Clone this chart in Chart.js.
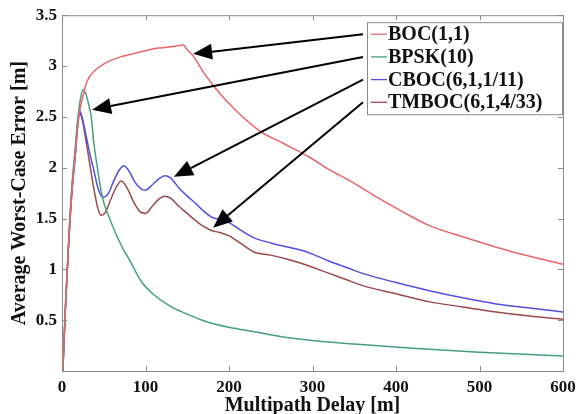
<!DOCTYPE html>
<html>
<head>
<meta charset="utf-8">
<script src="https://cdn.jsdelivr.net/npm/chart.js@4"></script>
<style>
  html, body { margin: 0; padding: 0; background: #fff; }
  #wrap { width: 583px; height: 414px; }
</style>
</head>
<body>
<div id="wrap"><canvas id="mpChart" width="583" height="414"></canvas></div>
<script>
// series names
const seriesNames = ['BOC(1,1)', 'BPSK(10)', 'CBOC(6,1,1/11)', 'TMBOC(6,1,4/33)'];

// BOC(1,1)
const bocDelay = [1, 4, 7.5, 11.6, 15.6, 18.5, 21, 25, 30, 40, 50, 60, 70, 80, 90, 100, 110, 120, 130, 140, 145, 150, 157, 164, 171, 185, 205, 237, 265, 297, 320, 345, 375, 405, 440, 480, 540, 600];
const bocError = [0, 0.6, 1.18, 1.74, 2.1, 2.38, 2.55, 2.7, 2.85, 2.96, 3.02, 3.06, 3.09, 3.11, 3.13, 3.15, 3.17, 3.18, 3.19, 3.2, 3.21, 3.16, 3.1, 3.01, 2.92, 2.77, 2.59, 2.36, 2.24, 2.1, 1.98, 1.87, 1.72, 1.58, 1.43, 1.32, 1.17, 1.05];

// BPSK(10)
const bpskDelay = [1, 4, 7.5, 11.6, 15.6, 18.5, 21, 25, 28, 32, 35, 38, 42, 48, 57, 64, 72, 81, 95, 110, 131, 150, 171, 200, 231, 261, 300, 350, 420, 500, 600];
const bpskError = [0, 0.62, 1.22, 1.8, 2.17, 2.45, 2.62, 2.77, 2.74, 2.62, 2.5, 2.25, 2.02, 1.72, 1.5, 1.36, 1.22, 1.09, 0.88, 0.75, 0.63, 0.56, 0.49, 0.43, 0.385, 0.34, 0.3, 0.265, 0.225, 0.185, 0.148];

// CBOC(6,1,1/11)
const cbocDelay = [1, 4, 7.5, 11.6, 15.6, 18.5, 21, 24, 28, 33, 38, 43, 49, 55, 62, 68, 74, 80, 88, 95, 100, 108, 116, 123, 130, 140, 150, 160, 170, 180, 190, 200, 215, 230, 250, 270, 290, 300, 320, 340, 360, 400, 440, 480, 520, 560, 600];
const cbocError = [0, 0.6, 1.18, 1.74, 2.1, 2.4, 2.56, 2.5, 2.35, 2.15, 1.98, 1.8, 1.71, 1.74, 1.87, 1.97, 2.02, 1.97, 1.85, 1.79, 1.78, 1.83, 1.89, 1.92, 1.9, 1.8, 1.72, 1.65, 1.57, 1.51, 1.49, 1.46, 1.38, 1.31, 1.26, 1.22, 1.18, 1.15, 1.08, 1.02, 0.96, 0.87, 0.79, 0.72, 0.66, 0.62, 0.58];

// TMBOC(6,1,4/33)
const tmbocDelay = [1, 4, 7.5, 11.6, 15.6, 18.5, 21, 24, 28, 33, 38, 43, 47, 52, 58, 65, 71, 78, 86, 93, 100, 108, 116, 123, 130, 140, 150, 160, 170, 180, 190, 200, 215, 230, 250, 270, 290, 300, 320, 340, 360, 400, 440, 480, 520, 560, 600];
const tmbocError = [0, 0.6, 1.18, 1.74, 2.1, 2.4, 2.54, 2.48, 2.3, 2.05, 1.8, 1.6, 1.53, 1.56, 1.68, 1.81, 1.87, 1.8, 1.66, 1.57, 1.55, 1.62, 1.69, 1.72, 1.7, 1.62, 1.55, 1.48, 1.42, 1.38, 1.36, 1.33, 1.25, 1.17, 1.14, 1.1, 1.05, 1.02, 0.96, 0.9, 0.84, 0.76, 0.68, 0.63, 0.58, 0.54, 0.51];

// where each legend arrow points (delay, error)
const arrowDelay = [157, 36, 134, 181];
const arrowError = [3.12, 2.57, 1.91, 1.41];

const lineColors = ['#e8656b', '#45a07c', '#5050e0', '#9a4a4a'];
const serif = '"Liberation Serif", "Times New Roman", serif';

function toPoints(xs, ys) {
  return xs.map((x, i) => ({ x: x, y: ys[i] }));
}

// frame and inward MATLAB-style tick marks
const framePlugin = {
  id: 'frame',
  afterDraw(chart) {
    const ctx = chart.ctx;
    const a = chart.chartArea;
    const sx = chart.scales.x, sy = chart.scales.y;
    ctx.save();
    ctx.strokeStyle = '#8c8c8c';
    ctx.lineWidth = 1;
    ctx.strokeRect(a.left + 0.5, a.top + 0.5, a.right - a.left, a.bottom - a.top);
    ctx.beginPath();
    sx.ticks.forEach(t => {
      const p = Math.round(sx.getPixelForValue(t.value)) + 0.5;
      ctx.moveTo(p, a.bottom); ctx.lineTo(p, a.bottom - 5);
      ctx.moveTo(p, a.top); ctx.lineTo(p, a.top + 5);
    });
    sy.ticks.forEach(t => {
      const p = Math.round(sy.getPixelForValue(t.value)) + 0.5;
      ctx.moveTo(a.left, p); ctx.lineTo(a.left + 5, p);
      ctx.moveTo(a.right, p); ctx.lineTo(a.right - 5, p);
    });
    ctx.stroke();
    ctx.restore();
  }
};

// boxed legend inside the plot + arrows to the curves
const legendArrowPlugin = {
  id: 'legendArrows',
  afterDraw(chart) {
    const ctx = chart.ctx;
    const a = chart.chartArea;
    const sx = chart.scales.x, sy = chart.scales.y;
    const boxW = 195, boxH = 92;
    const left = a.right - boxW - 1, top = a.top + 7;
    const rowH = 22.7;
    ctx.save();
    ctx.fillStyle = '#fff';
    ctx.fillRect(left, top, boxW, boxH);
    ctx.strokeStyle = '#8c8c8c';
    ctx.lineWidth = 1;
    ctx.strokeRect(left + 0.5, top + 0.5, boxW, boxH);
    ctx.font = 'bold 20px ' + serif;
    ctx.textBaseline = 'middle';
    seriesNames.forEach((name, i) => {
      const y = top + 12 + i * rowH;
      ctx.strokeStyle = lineColors[i];
      ctx.lineWidth = 1.3;
      ctx.beginPath();
      ctx.moveTo(left + 4, y); ctx.lineTo(left + 20, y);
      ctx.stroke();
      ctx.fillStyle = '#111';
      ctx.fillText(name, left + 21, y + 1);
    });
    // arrows
    ctx.strokeStyle = '#000';
    ctx.fillStyle = '#000';
    ctx.lineWidth = 2;
    arrowDelay.forEach((d, i) => {
      const x0 = left - 4, y0 = top + 12 + i * rowH;
      const x1 = sx.getPixelForValue(d), y1 = sy.getPixelForValue(arrowError[i]);
      const ang = Math.atan2(y1 - y0, x1 - x0);
      const hl = 19, hw = 8;
      const bx = x1 - hl * Math.cos(ang), by = y1 - hl * Math.sin(ang);
      ctx.beginPath();
      ctx.moveTo(x0, y0); ctx.lineTo(bx, by);
      ctx.stroke();
      ctx.beginPath();
      ctx.moveTo(x1, y1);
      ctx.lineTo(bx + hw * Math.sin(ang), by - hw * Math.cos(ang));
      ctx.lineTo(bx - hw * Math.sin(ang), by + hw * Math.cos(ang));
      ctx.closePath();
      ctx.fill();
    });
    ctx.restore();
  }
};

const ctx = document.getElementById('mpChart').getContext('2d');
const chart = new Chart(ctx, {
  type: 'line',
  data: {
    datasets: [
      { label: seriesNames[0], data: toPoints(bocDelay, bocError), borderColor: lineColors[0] },
      { label: seriesNames[1], data: toPoints(bpskDelay, bpskError), borderColor: lineColors[1] },
      { label: seriesNames[2], data: toPoints(cbocDelay, cbocError), borderColor: lineColors[2] },
      { label: seriesNames[3], data: toPoints(tmbocDelay, tmbocError), borderColor: lineColors[3] }
    ]
  },
  options: {
    responsive: false,
    animation: false,
    layout: { padding: { top: 14, right: 20, left: 0, bottom: 0 } },
    elements: {
      point: { radius: 0 },
      line: { borderWidth: 1.5, cubicInterpolationMode: 'monotone', fill: false }
    },
    plugins: {
      legend: { display: false },
      tooltip: { enabled: false }
    },
    scales: {
      x: {
        type: 'linear',
        min: 0, max: 600,
        grid: { display: false, drawTicks: false },
        border: { display: false },
        ticks: {
          stepSize: 100, padding: 6, color: '#111',
          font: { family: serif, size: 17, weight: 'bold' }
        },
        title: {
          display: true, text: 'Multipath Delay [m]', color: '#111',
          font: { family: serif, size: 20, weight: 'bold' },
          padding: { top: 0, bottom: -4 }
        },
        afterFit(scale) { scale.height = 43; }
      },
      y: {
        min: 0, max: 3.5,
        grid: { display: false, drawTicks: false },
        border: { display: false },
        ticks: {
          stepSize: 0.5, padding: 5, color: '#111',
          font: { family: serif, size: 17, weight: 'bold' },
          callback: v => (v === 0 ? '' : v)
        },
        title: {
          display: true, text: 'Average Worst-Case Error [m]', color: '#111',
          font: { family: serif, size: 20, weight: 'bold' },
          padding: { top: 8, bottom: 0 }
        },
        afterFit(scale) { scale.width = 62; }
      }
    }
  },
  plugins: [framePlugin, legendArrowPlugin]
});
</script>
</body>
</html>
